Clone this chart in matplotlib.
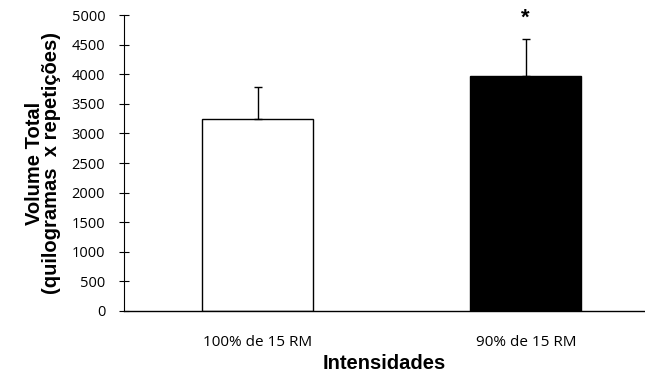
import matplotlib
matplotlib.use("Agg")
import matplotlib.pyplot as plt

categories = ["100% de 15 RM", "90% de 15 RM"]
means = [3240, 3970]
errors = [540, 625]
colors = ["white", "black"]
yticks = list(range(0, 5001, 500))

plt.rcParams["font.family"] = ["Open Sans", "DejaVu Sans"]

fig = plt.figure(figsize=(6.45, 3.80), dpi=100)
ax = fig.add_axes([0.1922, 0.1816, 0.8078, 0.7789])

x = range(len(categories))
ax.bar(x, means, width=0.415, color=colors, edgecolor="black", linewidth=1.0, zorder=2)
ax.errorbar(x, means, yerr=[[0, 0], errors], fmt="none", ecolor="black",
            elinewidth=1.0, capsize=3, capthick=1.0, zorder=3)

# significance marker above the second bar
ax.text(1, means[1] + errors[1] + 180, "*", ha="center", va="bottom",
        fontsize=16, fontweight="bold", family="Liberation Sans")

ax.set_xlim(-0.5, 1.445)
ax.set_ylim(0, 5000)
ax.set_yticks(yticks)
ax.set_xticks(list(x))
ax.set_xticklabels(categories, fontsize=11)
ax.tick_params(axis="y", labelsize=10.5, direction="inout", length=7, width=0.8, pad=10)
ax.tick_params(axis="x", length=0, pad=17)

for side in ["top", "right"]:
    ax.spines[side].set_visible(False)
ax.spines["left"].set_linewidth(0.8)
ax.spines["bottom"].set_linewidth(1.0)

ax.set_ylabel("Volume Total\n(quilogramas  x repetições)", fontsize=14.5,
              fontweight="bold", family="Liberation Sans", linespacing=0.9)
ax.yaxis.set_label_coords(-0.12, 0.5)
ax.set_xlabel("Intensidades", fontsize=14.5, fontweight="bold",
              family="Liberation Sans", labelpad=3)

fig.savefig("out.png", dpi=100)
